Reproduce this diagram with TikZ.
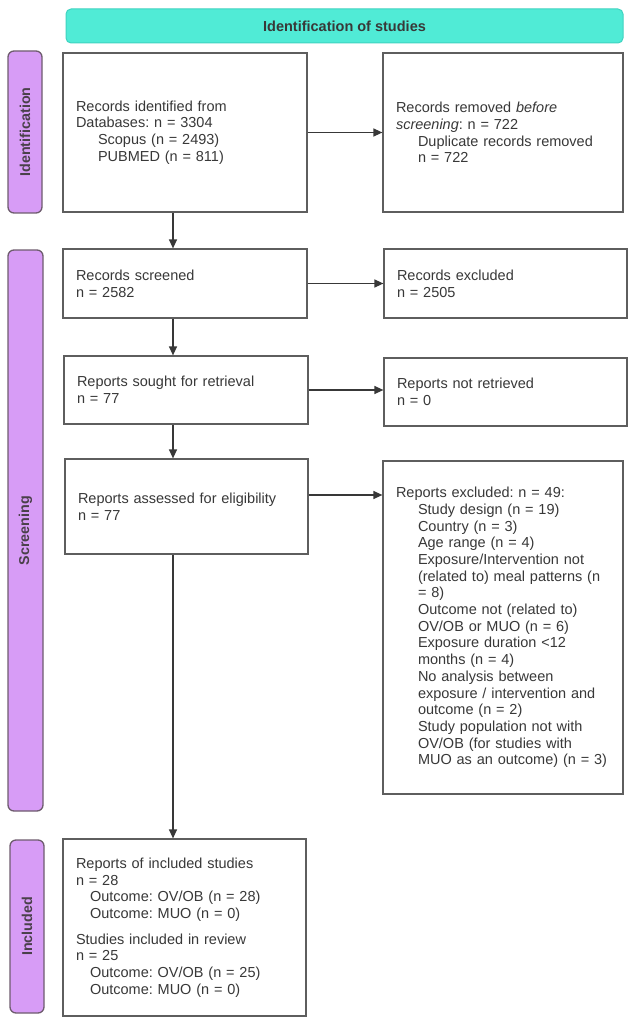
\documentclass[tikz,border=0pt]{standalone}
\usepackage{fontspec}
\setmainfont{Liberation Sans}
\usetikzlibrary{arrows.meta}
\definecolor{teal1}{HTML}{50EBD6}
\definecolor{teal2}{HTML}{3FD3C0}
\definecolor{purp}{HTML}{D79CF6}
\definecolor{purpline}{HTML}{6E5C6E}
\definecolor{boxgray}{HTML}{5E5E5E}
\definecolor{txt}{HTML}{383838}
\definecolor{labtxt}{HTML}{4A404A}
\newcommand{\ind}{\hspace*{22pt}}
\tikzset{
  box/.style={draw=boxgray, line width=1.2pt, fill=white, inner xsep=13pt, inner ysep=0pt,
    align=left, text=txt, font=\frenchspacing\fontsize{14.5}{16.7}\selectfont},
  sidelab/.style={draw=purpline, line width=1.3pt, fill=purp, rounded corners=6pt,
    text=labtxt, font=\bfseries\fontsize{14.3}{16}\selectfont, rotate=90, inner sep=0pt},
  arr/.style={draw=txt, line width=1.2pt, -{Triangle[length=9pt,width=8pt]}},
}
\begin{document}
\begin{tikzpicture}[x=1pt,y=-1pt]
\useasboundingbox (0,0) rectangle (635,1024);
% header
\node[draw=teal2, line width=1pt, fill=teal1, rounded corners=5pt, minimum width=557pt, minimum height=34pt,
  text=txt, font=\bfseries\fontsize{14.5}{16}\selectfont, inner sep=0pt] (hdr) at (344.5,26) {Identification of studies};
% side labels (rotated: width <-> height)
\node[sidelab, minimum width=162pt, minimum height=34pt] (idl) at (25,132) {Identification};
\node[sidelab, minimum width=561pt, minimum height=35pt] (scl) at (25.5,530.5) {Screening};
\node[sidelab, minimum width=173pt, minimum height=34pt] (inl) at (27,926.5) {Included};
% boxes
\node[box, minimum width=244pt, minimum height=159pt, text width=218pt] (b1) at (185,132.5)
 {Records identified from\\Databases: n = 3304\\\ind Scopus (n = 2493)\\\ind PUBMED (n = 811)};
\node[box, minimum width=240pt, minimum height=159pt, text width=214pt] (b2) at (503,132.5)
 {Records removed \textit{before}\\\textit{screening}: n = 722\\\ind Duplicate records removed\\\ind n = 722};
\node[box, minimum width=244pt, minimum height=69pt, text width=218pt] (b3) at (185,283.5)
 {Records screened\\n = 2582};
\node[box, minimum width=243pt, minimum height=69pt, text width=217pt] (b4) at (505.5,283.5)
 {Records excluded\\n = 2505};
\node[box, minimum width=244pt, minimum height=68pt, text width=218pt] (b5) at (186,390)
 {Reports sought for retrieval\\n = 77};
\node[box, minimum width=243pt, minimum height=68pt, text width=217pt] (b6) at (505.5,392)
 {Reports not retrieved\\n = 0};
\node[box, minimum width=243pt, minimum height=95pt, text width=217pt] (b7) at (186.5,506.5)
 {Reports assessed for eligibility\\n = 77};
\node[box, minimum width=240pt, minimum height=333pt, text width=214pt] (b8) at (503,627.5)
 {Reports excluded: n = 49:\\
 \ind Study design (n = 19)\\
 \ind Country (n = 3)\\
 \ind Age range (n = 4)\\
 \ind Exposure/Intervention not\\
 \ind (related to) meal patterns (n\\
 \ind = 8)\\
 \ind Outcome not (related to)\\
 \ind OV/OB or MUO (n = 6)\\
 \ind Exposure duration <12\\
 \ind months (n = 4)\\
 \ind No analysis between\\
 \ind exposure / intervention and\\
 \ind outcome (n = 2)\\
 \ind Study population not with\\
 \ind OV/OB (for studies with\\
 \ind MUO as an outcome) (n = 3)};
\node[box, minimum width=243pt, minimum height=177pt, text width=217pt] (b9) at (184.5,927.5)
 {Reports of included studies\\n = 28\\
 \hspace*{14pt}Outcome: OV/OB (n = 28)\\
 \hspace*{14pt}Outcome: MUO (n = 0)\\[9pt]
 Studies included in review\\n = 25\\
 \hspace*{14pt}Outcome: OV/OB (n = 25)\\
 \hspace*{14pt}Outcome: MUO (n = 0)};
% arrows
\coordinate (ax) at (173,0);
\coordinate (e7) at ([yshift=11.5pt]b7.east);
\draw[arr] (b1.south -| ax) -- (b3.north -| ax);
\draw[arr] (b3.south -| ax) -- (b5.north -| ax);
\draw[arr] (b5.south -| ax) -- (b7.north -| ax);
\draw[arr] (b7.south -| ax) -- (b9.north -| ax);
\draw[arr] (b1.east) -- (b2.west);
\draw[arr] (b3.east) -- (b4.west);
\draw[arr] (b5.east) -- (b6.west |- b5.east);
\draw[arr] (e7) -- (b8.west |- e7);
\end{tikzpicture}
\end{document}
